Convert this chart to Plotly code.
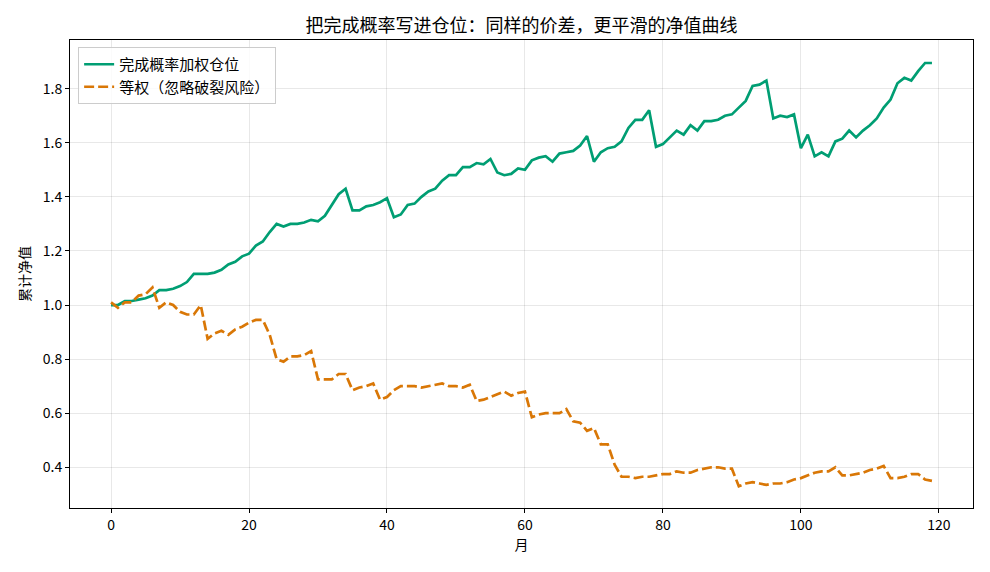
import plotly.graph_objects as go

months = list(range(120))

weighted = [
    1.00, 1.00, 1.015, 1.015, 1.02, 1.025, 1.035, 1.055, 1.055, 1.06,
    1.07, 1.085, 1.115, 1.115, 1.115, 1.12, 1.13, 1.15, 1.16, 1.18,
    1.19, 1.22, 1.235, 1.27, 1.30, 1.29, 1.30, 1.30, 1.305, 1.315,
    1.31, 1.33, 1.37, 1.41, 1.43, 1.35, 1.35, 1.365, 1.37, 1.38,
    1.395, 1.325, 1.335, 1.37, 1.375, 1.40, 1.42, 1.43, 1.46, 1.48,
    1.48, 1.51, 1.51, 1.525, 1.52, 1.54, 1.49, 1.48, 1.485, 1.505,
    1.50, 1.535, 1.545, 1.55, 1.53, 1.56, 1.565, 1.57, 1.59, 1.625,
    1.53, 1.565, 1.58, 1.585, 1.605, 1.655, 1.685, 1.685, 1.72, 1.585,
    1.595, 1.62, 1.645, 1.63, 1.665, 1.645, 1.68, 1.68, 1.685, 1.70,
    1.705, 1.73, 1.755, 1.81, 1.815, 1.83, 1.69, 1.70, 1.695, 1.705,
    1.58, 1.63, 1.55, 1.565, 1.55, 1.605, 1.615, 1.645, 1.62, 1.645,
    1.665, 1.69, 1.73, 1.76, 1.82, 1.84, 1.83, 1.865, 1.895, 1.895,
]

equal = [
    1.01, 0.99, 1.01, 1.01, 1.035, 1.04, 1.065, 0.99, 1.01, 1.00,
    0.975, 0.965, 0.965, 1.00, 0.875, 0.895, 0.905, 0.89, 0.91, 0.92,
    0.935, 0.945, 0.945, 0.89, 0.80, 0.79, 0.81, 0.81, 0.815, 0.83,
    0.725, 0.725, 0.725, 0.745, 0.745, 0.685, 0.695, 0.70, 0.71, 0.65,
    0.66, 0.685, 0.70, 0.70, 0.70, 0.695, 0.70, 0.705, 0.71, 0.70,
    0.70, 0.695, 0.705, 0.645, 0.65, 0.66, 0.67, 0.68, 0.665, 0.675,
    0.68, 0.585, 0.595, 0.60, 0.60, 0.60, 0.615, 0.57, 0.565, 0.535,
    0.545, 0.485, 0.485, 0.41, 0.365, 0.365, 0.36, 0.365, 0.365, 0.37,
    0.375, 0.375, 0.385, 0.38, 0.38, 0.39, 0.395, 0.40, 0.40, 0.395,
    0.395, 0.33, 0.34, 0.345, 0.34, 0.335, 0.34, 0.34, 0.345, 0.355,
    0.36, 0.37, 0.38, 0.385, 0.385, 0.40, 0.37, 0.37, 0.375, 0.38,
    0.39, 0.395, 0.405, 0.36, 0.36, 0.365, 0.375, 0.375, 0.355, 0.35,
]

x_ticks = [0, 20, 40, 60, 80, 100, 120]
y_ticks = [0.4, 0.6, 0.8, 1.0, 1.2, 1.4, 1.6, 1.8]

FONT = "Noto Sans CJK SC, DejaVu Sans, sans-serif"

fig = go.Figure()
fig.add_trace(go.Scatter(
    x=months, y=weighted, mode="lines", name="完成概率加权仓位",
    legendgroup="a",
    line=dict(color="#009E73", width=2.7),
))
fig.add_trace(go.Scatter(
    x=months, y=equal, mode="lines", name="等权（忽略破裂风险）",
    legendgroup="b",
    line=dict(color="#D97706", width=2.7, dash="10px,4px"),
))

axis_common = dict(
    showline=True, linecolor="black", linewidth=1, mirror=True,
    ticks="outside", ticklen=4, tickcolor="black",
    showgrid=True, gridcolor="rgba(0,0,0,0.09)", gridwidth=1,
    zeroline=False, tickfont=dict(size=14, color="black", family=FONT),
)

fig.update_layout(
    width=990, height=572,
    margin=dict(l=70, r=17, t=40, b=64),
    paper_bgcolor="white", plot_bgcolor="white",
    font=dict(family=FONT, color="black"),
    title=dict(text="把完成概率写进仓位：同样的价差，更平滑的净值曲线",
               xref="paper", x=0.5, xanchor="center",
               yref="container", y=0.955, yanchor="middle",
               font=dict(size=18, color="black", family=FONT)),
    xaxis=dict(range=[-5.95, 124.95], tickvals=x_ticks,
               title=dict(text="月", font=dict(size=14, family=FONT), standoff=6),
               **axis_common),
    yaxis=dict(range=[0.2495, 1.98], tickvals=y_ticks, tickformat=".1f",
               title=dict(text="累计净值", font=dict(size=14, family=FONT), standoff=8),
               **axis_common),
    legend=dict(x=0.009, y=0.985, xanchor="left", yanchor="top",
                bgcolor="rgba(255,255,255,0.8)", bordercolor="#cccccc", borderwidth=1,
                font=dict(size=15, family=FONT, color="black"),
                tracegroupgap=0),
    showlegend=True,
)

fig.write_html("out.html")
